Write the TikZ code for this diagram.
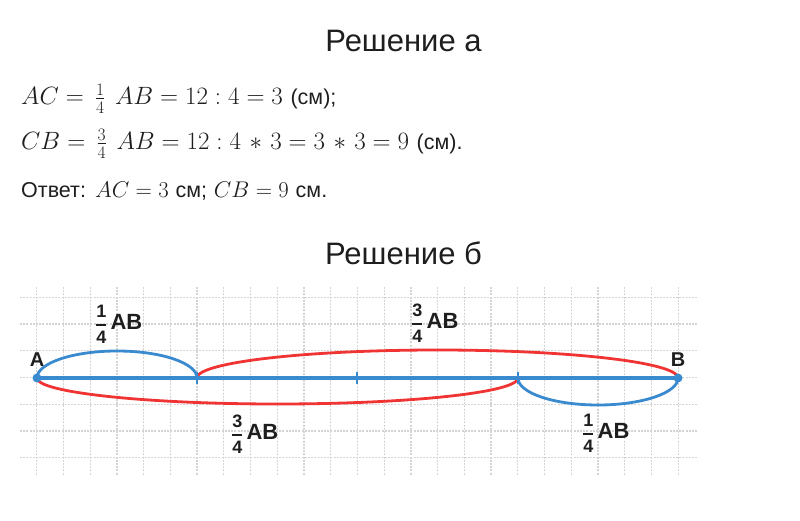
\documentclass[tikz,border=0pt]{standalone}
\usepackage{fix-cm}
\usepackage{amsmath}
\usepackage[no-math]{fontspec}
\newfontfamily\sansfam{Liberation Sans}
\usetikzlibrary{positioning}
\definecolor{segblue}{RGB}{58,138,208}
\definecolor{segred}{RGB}{240,52,52}
\definecolor{gridgray}{RGB}{212,212,212}
\definecolor{inkblack}{RGB}{30,30,30}
\newcommand{\partlbl}[1]{$\genfrac{}{}{1.6pt}{0}{\text{\bfseries #1}}{\text{\bfseries 4}}$\,{\fontsize{22}{22}\selectfont\bfseries AB}}
\newcommand{\cmtext}[1]{{\sansfam\fontsize{21.5}{22}\selectfont #1}}
\newcommand{\sfrac}[2]{\mkern3mu\frac{#1}{#2}\mkern7mu}
\tikzset{
    title/.style={font=\sansfam\fontsize{31}{31}\selectfont,text=inkblack,anchor=base,inner sep=0pt},
    mathline/.style={font=\fontsize{25}{25}\selectfont,text=inkblack,anchor=base west,inner sep=0pt},
    gridline/.style={draw=gridgray,line width=1.3pt,dash pattern=on 2pt off 1.2pt},
    segline/.style={draw=segblue,line width=3.2pt},
    arcblue/.style={draw=segblue,line width=2.8pt},
    arcred/.style={draw=segred,line width=2.8pt},
    partlabel/.style={font=\sansfam\fontsize{18}{18}\selectfont,text=inkblack,anchor=west,inner sep=0pt},
    endlabel/.style={font=\sansfam\bfseries\fontsize{20}{20}\selectfont,text=inkblack,inner sep=0pt}
}
\begin{document}
\begin{tikzpicture}[x=1pt,y=1pt]
    \useasboundingbox (0,0) rectangle (800,520);
    % headings and text
    \node[title] (heada) at (403.5,468) {Решение а};
    \node[mathline] (line1) at (21,415)
        {$AC=\sfrac{1}{4}AB=12:4=3$ \cmtext{(см);}};
    \node[mathline] (line2) at (21,370)
        {$\medmuskip=6mu CB=\sfrac{3}{4}AB=12:4*3=3*3=9$ \cmtext{(см).}};
    \node[mathline,font=\fontsize{22.7}{23}\selectfont] (answer) at (21,322)
        {\cmtext{Ответ:} $AC=3$ \cmtext{см;} $CB=9$ \cmtext{см.}};
    \node[title] (headb) at (403.5,255) {Решение б};
    % grid
    \foreach \k in {0,...,24}
        \draw[gridline] (36.7+26.73*\k,233) -- (36.7+26.73*\k,45);
    \foreach \k in {0,...,6}
        \draw[gridline] (20,222.7-26.73*\k) -- (697,222.7-26.73*\k);
    % points on the segment
    \coordinate (A) at (37,142);
    \coordinate (C) at (197,142);
    \coordinate (M) at (357,142);
    \coordinate (D) at (518,142);
    \coordinate (B) at (678,142);
    % arcs
    \draw[arcred] (C) arc[start angle=180,end angle=0,x radius=240.5pt,y radius=28pt];
    \draw[arcred] (A) arc[start angle=180,end angle=360,x radius=240.5pt,y radius=26pt];
    \draw[arcblue] (A) arc[start angle=180,end angle=0,x radius=80pt,y radius=27pt];
    \draw[arcblue] (D) arc[start angle=180,end angle=360,x radius=80pt,y radius=27pt];
    % segment AB
    \draw[segline] (A) -- (B);
    \foreach \p in {C,M,D}
        \draw[segblue,line width=2.4pt] ([yshift=6pt]\p) -- ([yshift=-6pt]\p);
    \fill[segblue] (A) circle[radius=4.5pt];
    \fill[segblue] (B) circle[radius=4.5pt];
    \node[endlabel,above=11pt of A] (lblA) {A};
    \node[endlabel,above=11pt of B] (lblB) {B};
    % fraction labels
    \node[partlabel] (ac) at (95,196) {\partlbl{1}};
    \node[partlabel] (cb) at (411,197) {\partlbl{3}};
    \node[partlabel] (ad) at (231,86) {\partlbl{3}};
    \node[partlabel] (db) at (582,87) {\partlbl{1}};
\end{tikzpicture}
\end{document}
